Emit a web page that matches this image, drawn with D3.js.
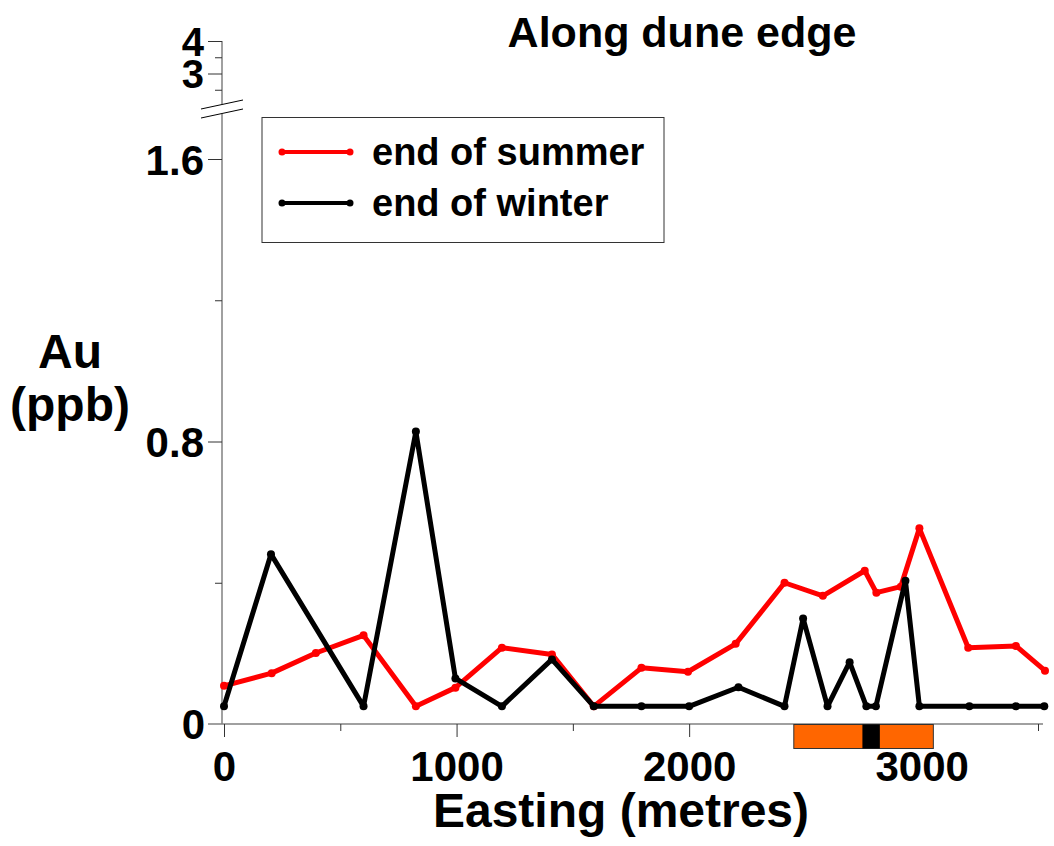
<!DOCTYPE html>
<html>
<head>
<meta charset="utf-8">
<script src="https://cdn.jsdelivr.net/npm/d3@7"></script>
<style>
  body { margin: 0; background: #fff; }
  text { font-family: "Liberation Sans", Arial, sans-serif; font-weight: bold; fill: #000; }
</style>
</head>
<body>
<svg id="chart" width="1054" height="846"></svg>
<script>
// Easting (m) of each sample along the dune edge
const summerEasting = [0, 205, 395, 600, 825, 995, 1195, 1410, 1590, 1795, 1995, 2200, 2410, 2575, 2755, 2805, 2910, 2990, 3200, 3405, 3530];
const summerAu = [0.108, 0.144, 0.201, 0.251, 0.05, 0.103, 0.216, 0.197, 0.05, 0.159, 0.148, 0.227, 0.40, 0.363, 0.434, 0.372, 0.389, 0.554, 0.216, 0.221, 0.151];

const winterEasting = [0, 202, 600, 825, 995, 1195, 1410, 1590, 1795, 2000, 2212, 2410, 2490, 2595, 2690, 2762, 2803, 2930, 2990, 3205, 3405, 3527];
const winterAu = [0.05, 0.481, 0.05, 0.828, 0.129, 0.05, 0.183, 0.05, 0.05, 0.05, 0.104, 0.05, 0.299, 0.05, 0.175, 0.05, 0.05, 0.406, 0.05, 0.05, 0.05, 0.05];

// bar under the x axis (Easting ranges)
const zoneStart = [2450, 2745];
const zoneEnd = [3050, 2820];
const zoneColor = ["#ff6600", "#000000"];

const seriesNames = ["end of summer", "end of winter"];
const seriesColors = ["#ff0000", "#000000"];

const svg = d3.select("#chart");

const x = d3.scaleLinear().domain([0, 3500]).range([224, 1038]);
const y = d3.scaleLinear().domain([0, 1.6]).range([724, 159]);
// upper part of the broken y axis
const yTop = d3.scaleLinear().domain([3, 4]).range([73.5, 41]);

const axisColor = "#808080";

// y axis (lower part)
svg.append("line")
    .attr("x1", 222).attr("x2", 222)
    .attr("y1", 114).attr("y2", 724)
    .attr("stroke", axisColor).attr("stroke-width", 1.5);
// y axis (upper part)
svg.append("line")
    .attr("x1", 222).attr("x2", 222)
    .attr("y1", 41).attr("y2", 104)
    .attr("stroke", axisColor).attr("stroke-width", 1.5);
// break marks
[0, 9].forEach(off => {
    svg.append("line")
        .attr("x1", 201).attr("y1", 109 + off)
        .attr("x2", 243).attr("y2", 100 + off)
        .attr("stroke", "#000").attr("stroke-width", 1);
});

// x axis line
svg.append("line")
    .attr("x1", 208).attr("x2", 1043)
    .attr("y1", 724).attr("y2", 724)
    .attr("stroke", axisColor).attr("stroke-width", 1.5);

function styleAxis(g) {
    g.select(".domain").remove();
    g.selectAll(".tick line").attr("stroke", "#333").attr("stroke-width", 1);
}

// y ticks
svg.append("g").attr("transform", "translate(222,0)")
    .call(d3.axisLeft(y).tickValues([0.8, 1.6]).tickSize(14).tickPadding(4).tickFormat(d3.format(".1f")))
    .call(styleAxis)
    .selectAll("text").attr("font-size", 42).attr("font-family", null).attr("dy", "0.36em");
svg.append("g").attr("transform", "translate(222,0)")
    .call(d3.axisLeft(y).tickValues([0.4, 1.2]).tickSize(7).tickFormat(""))
    .call(styleAxis);
svg.append("text")
    .attr("x", 205).attr("y", y(0)).attr("dy", "0.36em")
    .attr("text-anchor", "end").attr("font-size", 42).text("0");

svg.append("g").attr("transform", "translate(222,0)")
    .call(d3.axisLeft(yTop).tickValues([3, 4]).tickSize(14).tickPadding(4).tickFormat(d3.format("d")))
    .call(styleAxis)
    .selectAll("text").attr("font-size", 40).attr("font-family", null).attr("dy", "0.36em");
svg.append("g").attr("transform", "translate(222,0)")
    .call(d3.axisLeft(yTop).tickValues([2.5, 3.5]).tickSize(7).tickFormat(""))
    .call(styleAxis);

// x ticks
svg.append("g").attr("transform", "translate(0,724)")
    .call(d3.axisBottom(x).tickValues([0, 1000, 2000, 3000]).tickSize(13).tickPadding(14).tickFormat(d3.format("d")))
    .call(styleAxis)
    .selectAll("text").attr("font-size", 42).attr("font-family", null);
svg.append("g").attr("transform", "translate(0,724)")
    .call(d3.axisBottom(x).tickValues([500, 1500, 2500, 3500]).tickSize(7).tickFormat(""))
    .call(styleAxis);

// zone bar under axis
svg.append("g").selectAll("rect")
    .data(zoneStart.map((s, i) => ({ s: s, e: zoneEnd[i], c: zoneColor[i] })))
    .enter().append("rect")
    .attr("x", d => x(d.s))
    .attr("width", d => x(d.e) - x(d.s))
    .attr("y", 724.5)
    .attr("height", 24)
    .attr("fill", d => d.c)
    .attr("stroke", (d, i) => i === 0 ? "#333" : "none")
    .attr("stroke-width", 1);

// series
const series = [
    { xs: summerEasting, ys: summerAu, color: seriesColors[0] },
    { xs: winterEasting, ys: winterAu, color: seriesColors[1] }
];
const line = d3.line().x(d => x(d[0])).y(d => y(d[1]));

series.forEach(s => {
    const pts = s.xs.map((e, i) => [e, s.ys[i]]);
    svg.append("path")
        .datum(pts)
        .attr("d", line)
        .attr("fill", "none")
        .attr("stroke", s.color)
        .attr("stroke-width", 5)
        .attr("stroke-linejoin", "round");
    svg.append("g").selectAll("circle")
        .data(pts)
        .enter().append("circle")
        .attr("cx", d => x(d[0]))
        .attr("cy", d => y(d[1]))
        .attr("r", 4)
        .attr("fill", s.color);
});

// legend
const legend = svg.append("g");
legend.append("rect")
    .attr("x", 262).attr("y", 117.5)
    .attr("width", 402).attr("height", 125)
    .attr("fill", "#fff").attr("stroke", "#333").attr("stroke-width", 1);
seriesNames.forEach((name, i) => {
    const ly = 152 + i * 51;
    legend.append("line")
        .attr("x1", 282).attr("x2", 350)
        .attr("y1", ly).attr("y2", ly)
        .attr("stroke", seriesColors[i]).attr("stroke-width", 4);
    [282, 350].forEach(cx => legend.append("circle")
        .attr("cx", cx).attr("cy", ly).attr("r", 3.5).attr("fill", seriesColors[i]));
    legend.append("text")
        .attr("x", 372).attr("y", ly + 13)
        .attr("font-size", 38)
        .text(name);
});

// titles
svg.append("text")
    .attr("x", 682).attr("y", 47)
    .attr("text-anchor", "middle").attr("font-size", 43)
    .text("Along dune edge");
svg.append("text")
    .attr("x", 70).attr("y", 368)
    .attr("text-anchor", "middle").attr("font-size", 48)
    .text("Au");
svg.append("text")
    .attr("x", 70).attr("y", 421)
    .attr("text-anchor", "middle").attr("font-size", 48)
    .text("(ppb)");
svg.append("text")
    .attr("x", 621).attr("y", 827)
    .attr("text-anchor", "middle").attr("font-size", 48)
    .text("Easting (metres)");
</script>
</body>
</html>
